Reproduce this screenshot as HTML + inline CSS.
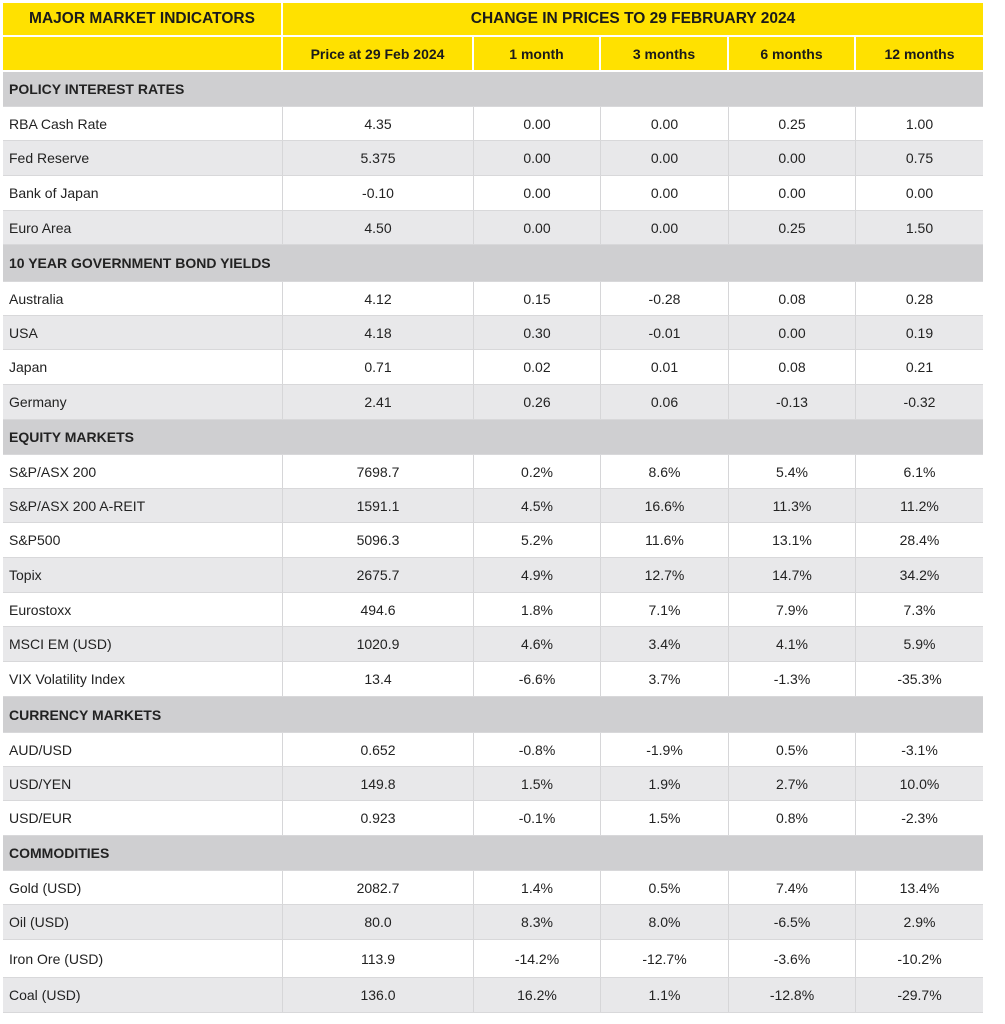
<!DOCTYPE html>
<html><head><style>
body{margin:0;background:#fff;width:1005px;height:1024px;position:relative;font-family:"Liberation Sans",Arial,sans-serif;overflow:hidden}
.r{position:absolute;left:3px;width:980px;display:flex;box-sizing:border-box;border-bottom:1px solid #d8d8da}
.r div{box-sizing:border-box;display:flex;align-items:center;justify-content:center;font-size:14px;color:#222;border-right:1px solid #d6d6d8}
.r div:last-child{border-right:none}
.r div:first-child{justify-content:flex-start;padding-left:6px}
.c0{width:280px}.c1{width:191px}.c2{width:127px}.c3{width:128px}.c4{width:127px}.c5{width:127px}
.y{background:#ffe100;border-bottom:2px solid #fff}
.y div{font-weight:bold;color:#1a1a1a;border-right:2px solid #fff}
.s{background:#cfcfd1}
.s div{font-weight:bold;font-size:14px;border:none}
.a{background:#e8e8ea}
</style></head><body>
<div class="r y" style="top:3px;height:34px"><div class="c0" style="font-size:15.5px;justify-content:center;padding-left:0">MAJOR MARKET INDICATORS</div><div style="width:700px;font-size:15.5px">CHANGE IN PRICES TO 29 FEBRUARY 2024</div></div>
<div class="r y" style="top:37px;height:35px"><div class="c0"></div><div class="c1">Price at 29 Feb 2024</div><div class="c2">1 month</div><div class="c3">3 months</div><div class="c4">6 months</div><div class="c5">12 months</div></div>
<div id="b"></div>
<script>
var rows=[
[72,107,"s","POLICY INTEREST RATES"],
[107,141,"","RBA Cash Rate","4.35","0.00","0.00","0.25","1.00"],
[141,176,"a","Fed Reserve","5.375","0.00","0.00","0.00","0.75"],
[176,211,"","Bank of Japan","-0.10","0.00","0.00","0.00","0.00"],
[211,245,"a","Euro Area","4.50","0.00","0.00","0.25","1.50"],
[245,282,"s","10 YEAR GOVERNMENT BOND YIELDS"],
[282,316,"","Australia","4.12","0.15","-0.28","0.08","0.28"],
[316,350,"a","USA","4.18","0.30","-0.01","0.00","0.19"],
[350,385,"","Japan","0.71","0.02","0.01","0.08","0.21"],
[385,420,"a","Germany","2.41","0.26","0.06","-0.13","-0.32"],
[420,455,"s","EQUITY MARKETS"],
[455,489,"","S&amp;P/ASX 200","7698.7","0.2%","8.6%","5.4%","6.1%"],
[489,523,"a","S&amp;P/ASX 200 A-REIT","1591.1","4.5%","16.6%","11.3%","11.2%"],
[523,558,"","S&amp;P500","5096.3","5.2%","11.6%","13.1%","28.4%"],
[558,593,"a","Topix","2675.7","4.9%","12.7%","14.7%","34.2%"],
[593,627,"","Eurostoxx","494.6","1.8%","7.1%","7.9%","7.3%"],
[627,662,"a","MSCI EM (USD)","1020.9","4.6%","3.4%","4.1%","5.9%"],
[662,697,"","VIX Volatility Index","13.4","-6.6%","3.7%","-1.3%","-35.3%"],
[697,733,"s","CURRENCY MARKETS"],
[733,767,"","AUD/USD","0.652","-0.8%","-1.9%","0.5%","-3.1%"],
[767,801,"a","USD/YEN","149.8","1.5%","1.9%","2.7%","10.0%"],
[801,836,"","USD/EUR","0.923","-0.1%","1.5%","0.8%","-2.3%"],
[836,871,"s","COMMODITIES"],
[871,905,"","Gold (USD)","2082.7","1.4%","0.5%","7.4%","13.4%"],
[905,940,"a","Oil (USD)","80.0","8.3%","8.0%","-6.5%","2.9%"],
[940,978,"","Iron Ore (USD)","113.9","-14.2%","-12.7%","-3.6%","-10.2%"],
[978,1013,"a","Coal (USD)","136.0","16.2%","1.1%","-12.8%","-29.7%"]];
var h="";
rows.forEach(function(r){
 h+='<div class="r '+r[2]+'" style="top:'+r[0]+'px;height:'+(r[1]-r[0])+'px">';
 if(r[2]=="s"){h+='<div style="width:980px">'+r[3]+'</div>';}
 else{for(var i=0;i<6;i++)h+='<div class="c'+i+'">'+r[3+i]+'</div>';}
 h+='</div>';});
document.getElementById("b").outerHTML=h;
</script>
</body></html>
